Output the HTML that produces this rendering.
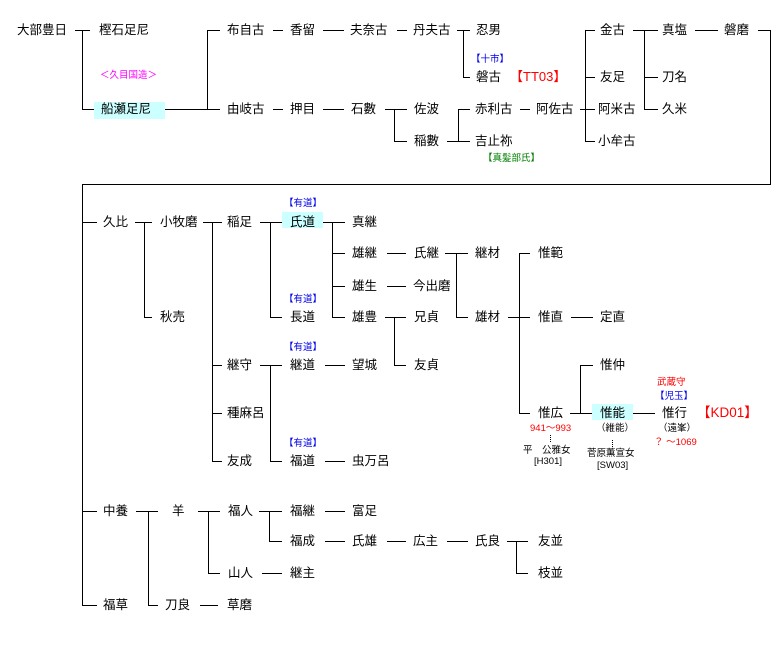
<!DOCTYPE html>
<html><head><meta charset="utf-8"><style>
body{margin:0;background:#fff;width:780px;height:650px;overflow:hidden;position:relative;font-family:"Liberation Sans","Noto Sans CJK JP",sans-serif}
.t{position:absolute;font-size:12.5px;line-height:16px;color:#000;white-space:nowrap}
.s{position:absolute;font-size:9.5px;line-height:12px;white-space:nowrap}
.b{color:#0000ee}.r{color:#ff0000}.g{color:#008000}.m{color:#ff00ff}
.bg{position:absolute;background:#ccffff}
svg{position:absolute;left:0;top:0}
</style></head><body>
<div class="bg" style="left:94px;top:102px;width:71px;height:17px"></div>
<div class="bg" style="left:282px;top:212px;width:41px;height:16px"></div>
<div class="bg" style="left:592px;top:404px;width:41px;height:16px"></div>
<svg width="780" height="650" stroke="#000" stroke-width="1" fill="none" shape-rendering="crispEdges">
<path d="M75 30.5H90M82.5 30V109.5H94M165 109.5H220M207.5 30V109.5M207 30.5H220M273 30.5H283M323 30.5H344M397 30.5H407M457 30.5H470M463.5 30V77.5H470M585.5 30V141M585 30.5H595M585 77.5H595M580 109.5H595M585 141.5H595M633 30.5H658M644.5 30V109.5M644 77.5H658M644 109.5H658M695 30.5H718M758 30.5H770.5V184.5H82.5V605.5H97"/>
<path d="M273 109.5H283M323 109.5H344M385 109.5H407M394.5 109V141.5H407M447 141.5H470M458.5 109V141.5M458 109.5H470M520 109.5H530"/>
<path d="M82 222.5H97M135 222.5H152M144.5 222V317.5H152M203 222.5H222M212.5 222V461.5H222M212 365.5H222M212 413.5H222M260 222.5H282M270.5 222V317.5H282M323 222.5H345M332.5 222V317.5H345M332 253.5H345M332 286.5H345M387 253.5H406M387 286.5H406M385 317.5H406M394.5 317V365.5H406M445 253.5H468M456.5 253V317.5H468M508 317.5H530M519.5 253V413.5H530M519 253.5H530M571 317.5H593M570 413.5H592M580.5 365V413.5M580 365.5H593M633 413.5H655M260 365.5H282M270.5 365V461.5H282M325 365.5H345M325 461.5H345"/>
<path d="M82 511.5H97M136 511.5H158M148.5 511V605.5H158M198 511.5H220M208.5 511V573.5H220M259 511.5H282M269.5 511V541.5H282M325 511.5H345M325 541.5H345M387 541.5H406M447 541.5H468M507 541.5H528M516.5 541V573.5H528M262 573.5H282M200 605.5H218"/>
<path d="M550.5 435V443M612.5 440V448" stroke-dasharray="1 1"/>
</svg>
<div class="t" style="left:17px;top:22px">大部豊日</div>
<div class="t" style="left:99px;top:22px">樫石足尼</div>
<div class="s m" style="left:100px;top:70px">＜久目国造＞</div>
<div class="t" style="left:101px;top:101px">船瀬足尼</div>
<div class="t" style="left:227px;top:22px">布自古</div>
<div class="t" style="left:290px;top:22px">香留</div>
<div class="t" style="left:350px;top:22px">夫奈古</div>
<div class="t" style="left:413px;top:22px">丹夫古</div>
<div class="t" style="left:476px;top:22px">忍男</div>
<div class="s b" style="left:471px;top:54px">【十市】</div>
<div class="t" style="left:476px;top:69px">磐古</div>
<div class="t r" style="left:510px;top:69px;font-size:13px">【TT03】</div>
<div class="t" style="left:600px;top:22px">金古</div>
<div class="t" style="left:662px;top:22px">真塩</div>
<div class="t" style="left:724px;top:22px">磐磨</div>
<div class="t" style="left:600px;top:69px">友足</div>
<div class="t" style="left:662px;top:69px">刀名</div>
<div class="t" style="left:598px;top:101px">阿米古</div>
<div class="t" style="left:662px;top:101px">久米</div>
<div class="t" style="left:598px;top:133px">小牟古</div>
<div class="t" style="left:227px;top:101px">由岐古</div>
<div class="t" style="left:290px;top:101px">押目</div>
<div class="t" style="left:351px;top:101px">石數</div>
<div class="t" style="left:414px;top:101px">佐波</div>
<div class="t" style="left:414px;top:133px">稲數</div>
<div class="t" style="left:475px;top:101px">赤利古</div>
<div class="t" style="left:536px;top:101px">阿佐古</div>
<div class="t" style="left:475px;top:133px">吉止祢</div>
<div class="s g" style="left:483px;top:153px">【真髪部氏】</div>

<div class="t" style="left:103px;top:214px">久比</div>
<div class="t" style="left:160px;top:214px">小牧磨</div>
<div class="t" style="left:160px;top:309px">秋売</div>
<div class="t" style="left:227px;top:214px">稲足</div>
<div class="t" style="left:227px;top:357px">継守</div>
<div class="t" style="left:227px;top:405px">種麻呂</div>
<div class="t" style="left:227px;top:453px">友成</div>
<div class="s b" style="left:284px;top:198px">【有道】</div>
<div class="t" style="left:290px;top:214px">氏道</div>
<div class="s b" style="left:284px;top:294px">【有道】</div>
<div class="t" style="left:290px;top:309px">長道</div>
<div class="s b" style="left:284px;top:342px">【有道】</div>
<div class="t" style="left:290px;top:357px">継道</div>
<div class="s b" style="left:284px;top:438px">【有道】</div>
<div class="t" style="left:290px;top:453px">福道</div>
<div class="t" style="left:352px;top:214px">真継</div>
<div class="t" style="left:352px;top:245px">雄継</div>
<div class="t" style="left:352px;top:278px">雄生</div>
<div class="t" style="left:352px;top:309px">雄豊</div>
<div class="t" style="left:352px;top:357px">望城</div>
<div class="t" style="left:352px;top:453px">虫万呂</div>
<div class="t" style="left:414px;top:245px">氏継</div>
<div class="t" style="left:413px;top:278px">今出磨</div>
<div class="t" style="left:414px;top:309px">兄貞</div>
<div class="t" style="left:414px;top:357px">友貞</div>
<div class="t" style="left:475px;top:245px">継材</div>
<div class="t" style="left:475px;top:309px">雄材</div>
<div class="t" style="left:538px;top:245px">惟範</div>
<div class="t" style="left:538px;top:309px">惟直</div>
<div class="t" style="left:538px;top:405px">惟広</div>
<div class="t" style="left:600px;top:309px">定直</div>
<div class="t" style="left:600px;top:357px">惟仲</div>
<div class="t" style="left:600px;top:405px">惟能</div>
<div class="t" style="left:662px;top:405px">惟行</div>
<div class="t r" style="left:697px;top:405px;font-size:13.5px">【KD01】</div>
<div class="s r" style="left:657px;top:377px">武蔵守</div>
<div class="s b" style="left:655px;top:391px">【児玉】</div>
<div class="s" style="left:658px;top:423px">（遠峯）</div>
<div class="s r" style="left:654px;top:437px">？ ～1069</div>
<div class="s r" style="left:530px;top:423px">941～993</div>
<div class="s" style="left:523px;top:445px">平　公雅女</div>
<div class="s" style="left:534px;top:456px">[H301]</div>
<div class="s" style="left:596px;top:423px">（維能）</div>
<div class="s" style="left:587px;top:448px">菅原薫宣女</div>
<div class="s" style="left:597px;top:460px">[SW03]</div>

<div class="t" style="left:103px;top:503px">中養</div>
<div class="t" style="left:103px;top:597px">福草</div>
<div class="t" style="left:172px;top:503px">羊</div>
<div class="t" style="left:165px;top:597px">刀良</div>
<div class="t" style="left:227px;top:597px">草磨</div>
<div class="t" style="left:228px;top:503px">福人</div>
<div class="t" style="left:228px;top:565px">山人</div>
<div class="t" style="left:290px;top:503px">福継</div>
<div class="t" style="left:290px;top:533px">福成</div>
<div class="t" style="left:290px;top:565px">継主</div>
<div class="t" style="left:352px;top:503px">富足</div>
<div class="t" style="left:352px;top:533px">氏雄</div>
<div class="t" style="left:413px;top:533px">広主</div>
<div class="t" style="left:475px;top:533px">氏良</div>
<div class="t" style="left:538px;top:533px">友並</div>
<div class="t" style="left:538px;top:565px">枝並</div>
</body></html>
